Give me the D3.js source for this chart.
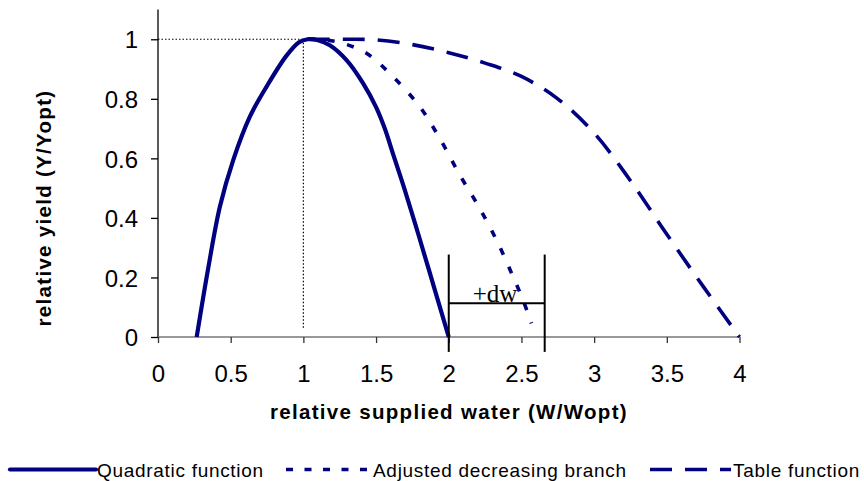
<!DOCTYPE html>
<html><head><meta charset="utf-8">
<script src="https://cdn.jsdelivr.net/npm/d3@7"></script>
<style>body{margin:0;background:#fff}svg{display:block}</style>
</head><body>
<svg id="c" width="864" height="481"></svg>
<script>
// ---- data ----
const xTicks = [0, 0.5, 1, 1.5, 2, 2.5, 3, 3.5, 4];
const yTicks = [0, 0.2, 0.4, 0.6, 0.8, 1];
const quadX = [0.266,0.345,0.426,0.518,0.632,0.747,0.884,0.97,1.03,1.1,1.182,1.297,1.411,1.5,1.56,1.62,1.7,1.8,1.9,2.0];
const quadY = [0,0.23,0.438,0.595,0.74,0.841,0.945,0.99,1.0,0.997,0.98,0.93,0.852,0.772,0.7,0.61,0.49,0.33,0.165,0];
const adjX = [1.03,1.15,1.274,1.434,1.617,1.8,1.938,2.076,2.213,2.339,2.442,2.511,2.568];
const adjY = [1.0,0.998,0.986,0.953,0.874,0.774,0.667,0.544,0.432,0.315,0.203,0.124,0.046];
const tabX = [1.03,1.3,1.5,1.75,2.0,2.25,2.5,2.75,3.0,3.25,3.5,3.75,4.0];
const tabY = [1.0,1.0,0.998,0.982,0.955,0.92,0.875,0.8,0.685,0.525,0.345,0.17,0];
const seriesNames = ["Quadratic function", "Adjusted decreasing branch", "Table function"];
const optPoint = [1, 1];
const dwRange = [2.0, 2.66];
const dwLabel = "+dw";
const xTitle = "relative supplied water (W/Wopt)";
const yTitle = "relative yield (Y/Yopt)";

const svg = d3.select("#c");
const x = d3.scaleLinear().domain([0, 4]).range([158, 739.5]);
const y = d3.scaleLinear().domain([0, 1.1]).range([337, 9.5]);
const navy = "#000080";
const font = "Liberation Sans, Arial, sans-serif";

// reference dotted lines at optimum
svg.append("line").attr("x1", x(0)).attr("x2", x(optPoint[0])).attr("y1", y(optPoint[1])).attr("y2", y(optPoint[1]))
  .attr("stroke", "#000").attr("stroke-width", 1.2).attr("stroke-dasharray", "1.5,2");
svg.append("line").attr("x1", x(optPoint[0])).attr("x2", x(optPoint[0])).attr("y1", y(optPoint[1])).attr("y2", y(0.028))
  .attr("stroke", "#000").attr("stroke-width", 1.2).attr("stroke-dasharray", "1.5,2");

// axes
const yAxis = d3.axisLeft(y).tickValues(yTicks).tickSize(7).tickPadding(13).tickFormat(d3.format("~g"));
const gy = svg.append("g").attr("transform", `translate(${x(0)},0)`).call(yAxis);
gy.select(".domain").attr("d", `M0,${y(1.1)}V${y(0)}`).attr("stroke", "#000").attr("stroke-width", 1.3);
gy.selectAll(".tick line").attr("stroke", "#000").attr("stroke-width", 1.3);
gy.selectAll("text").attr("font-family", font).attr("font-size", 24).attr("fill", "#000").attr("dy", "0.36em");

const xAxis = d3.axisBottom(x).tickValues(xTicks).tickSize(6).tickPadding(16).tickFormat(d3.format("~g"));
const gx = svg.append("g").attr("transform", `translate(0,${y(0)})`).call(xAxis);
gx.select(".domain").attr("d", `M${x(0)},0H${x(4)}`).attr("stroke", "#777").attr("stroke-width", 1.5);
gx.selectAll(".tick line").attr("stroke", "#333").attr("stroke-width", 1.3);
gx.selectAll("text").attr("font-family", font).attr("font-size", 24).attr("fill", "#000").attr("dy", "0.95em");

// titles
svg.append("text").attr("x", 449).attr("y", 419).attr("text-anchor", "middle")
  .attr("font-family", font).attr("font-weight", "bold").attr("font-size", 20.5).attr("letter-spacing", 1.3)
  .text(xTitle);
svg.append("text").attr("transform", `translate(51,208) rotate(-90)`).attr("text-anchor", "middle")
  .attr("font-family", font).attr("font-weight", "bold").attr("font-size", 20.5).attr("letter-spacing", 1.3)
  .text(yTitle);

// series
const cr = d3.line().x(d => x(d[0])).y(d => y(d[1])).curve(d3.curveCatmullRom.alpha(0.5));
const zip = (a, b) => a.map((v, i) => [v, b[i]]);
svg.append("path").datum(zip(quadX, quadY)).attr("d", cr).attr("fill", "none")
  .attr("stroke", navy).attr("stroke-width", 4.2).attr("stroke-linejoin", "round");
svg.append("path").datum(zip(adjX, adjY)).attr("d", cr).attr("fill", "none")
  .attr("stroke", navy).attr("stroke-width", 3.6).attr("stroke-dasharray", "7,13");
svg.append("path").datum(zip(tabX, tabY)).attr("d", cr).attr("fill", "none")
  .attr("stroke", navy).attr("stroke-width", 3.6).attr("stroke-dasharray", "22,13");

// +dw annotation
const dwTop = 0.277, dwBot = -0.05, dwMid = 0.113;
svg.append("line").attr("x1", x(dwRange[0])).attr("x2", x(dwRange[0])).attr("y1", y(dwTop)).attr("y2", y(dwBot)).attr("stroke", "#000").attr("stroke-width", 2);
svg.append("line").attr("x1", x(dwRange[1])).attr("x2", x(dwRange[1])).attr("y1", y(dwTop)).attr("y2", y(dwBot)).attr("stroke", "#000").attr("stroke-width", 2);
svg.append("line").attr("x1", x(dwRange[0])).attr("x2", x(dwRange[1])).attr("y1", y(dwMid)).attr("y2", y(dwMid)).attr("stroke", "#000").attr("stroke-width", 2);
svg.append("text").attr("x", 495).attr("y", y(dwMid) - 1).attr("text-anchor", "middle")
  .attr("font-family", "Liberation Serif, Times New Roman, serif").attr("font-size", 25).text(dwLabel);

// legend
const legend = [
  {x1: 10, x2: 96, tx: 97},
  {x1: 286, x2: 370, tx: 373},
  {x1: 650, x2: 731, tx: 733}
];
const ly = 469.5;
legend.forEach((l, i) => {
  svg.append("line").attr("x1", l.x1).attr("x2", l.x2).attr("y1", ly).attr("y2", ly)
    .attr("stroke", navy).attr("stroke-width", i === 0 ? 4.2 : 3.6)
    .attr("stroke-dasharray", i === 1 ? "7,11.5" : (i === 2 ? "22,13" : null))
    .attr("stroke-linecap", i === 0 ? "round" : "butt");
  svg.append("text").attr("x", l.tx).attr("y", ly + 7).attr("font-family", font).attr("font-size", 19)
    .attr("letter-spacing", 0.7).text(seriesNames[i]);
});
</script>
</body></html>
